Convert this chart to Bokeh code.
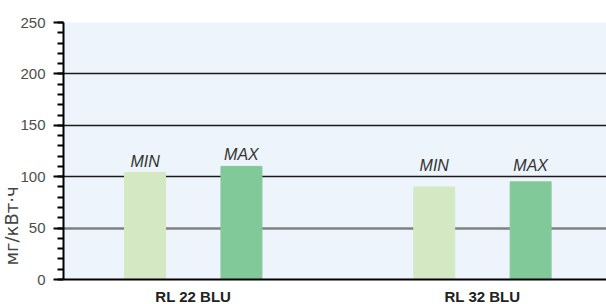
import numpy as np
from bokeh.plotting import figure
from bokeh.models import Range1d, FixedTicker, Grid, Title, ColumnDataSource
from bokeh.core.properties import value
from bokeh.embed import file_html
from bokeh.resources import INLINE

# ---- data ----
groups = ["RL 22 BLU", "RL 32 BLU"]
series = ["MIN", "MAX"]
min_values = [104, 90]
max_values = [110, 95]
y_ticks = [0, 50, 100, 150, 200, 250]
y_label = "мг/кВт·ч"

colors = {"MIN": "#d4e9c3", "MAX": "#82c99a"}

group_pos = np.arange(len(groups)) * 3.0
offsets = {"MIN": -0.5, "MAX": 0.5}

p = figure(width=606, height=307, output_backend="svg", toolbar_location=None,
           x_range=Range1d(-1.346, 4.287), y_range=Range1d(0, 250),
           min_border_left=63, min_border_right=0, min_border_top=22,
           min_border_bottom=28)
p.background_fill_color = "#edf4fc"
p.border_fill_color = "white"
p.outline_line_color = None

# grids
p.xgrid.grid_line_color = None
p.ygrid.ticker = FixedTicker(ticks=[100, 150, 200, 250])
p.ygrid.grid_line_color = "#1a1a1a"
p.ygrid.grid_line_width = 1.6
p.add_layout(Grid(dimension=1, ticker=FixedTicker(ticks=[50]),
                  grid_line_color="#808080", grid_line_width=2.5))

# bars
xs, tops, cols, names = [], [], [], []
for gi, g in enumerate(groups):
    for s, vals in (("MIN", min_values), ("MAX", max_values)):
        xs.append(group_pos[gi] + offsets[s])
        tops.append(vals[gi])
        cols.append(colors[s])
        names.append(s)
label_y = [max(t, 100) for t in tops]
src = ColumnDataSource(dict(x=xs, top=tops, color=cols, name=names, ly=label_y))
p.vbar(x="x", top="top", width=0.425, bottom=0, color="color", source=src)
p.text(x="x", y="ly", text="name", source=src, text_align="center",
       text_baseline="bottom", y_offset=-3,
       text_font=value("Liberation Sans"), text_font_style="italic",
       text_font_size="16px", text_color="#333333")

# y axis
ya = p.yaxis[0]
ya.ticker = FixedTicker(ticks=y_ticks, minor_ticks=list(range(0, 251, 10)))
ya.axis_line_color = "black"
ya.axis_line_width = 2
ya.major_tick_in = 0
ya.major_tick_out = 10
ya.major_tick_line_width = 2
ya.minor_tick_in = 0
ya.minor_tick_out = 6
ya.minor_tick_line_width = 2
ya.major_label_text_font = "Liberation Sans"
ya.major_label_text_font_size = "15px"
ya.major_label_text_color = "#4d4d4d"
ya.major_label_standoff = 8

# x axis
xa = p.xaxis[0]
xa.ticker = FixedTicker(ticks=list(group_pos))
xa.major_label_overrides = {float(x): g for x, g in zip(group_pos, groups)}
xa.axis_line_color = "black"
xa.axis_line_width = 2
xa.major_tick_line_color = None
xa.minor_tick_line_color = None
xa.major_tick_out = 0
xa.major_tick_in = 0
xa.major_label_text_font = "Liberation Sans"
xa.major_label_text_font_style = "bold"
xa.major_label_text_font_size = "15px"
xa.major_label_text_color = "#222222"
xa.major_label_standoff = 8

p.add_layout(Title(text=y_label, align="left", offset=14, standoff=-8,
                   text_font="DejaVu Sans", text_font_size="18px",
                   text_font_style="normal", text_color="#444444"), "left")

open("out.html", "w").write(file_html(p, INLINE))
